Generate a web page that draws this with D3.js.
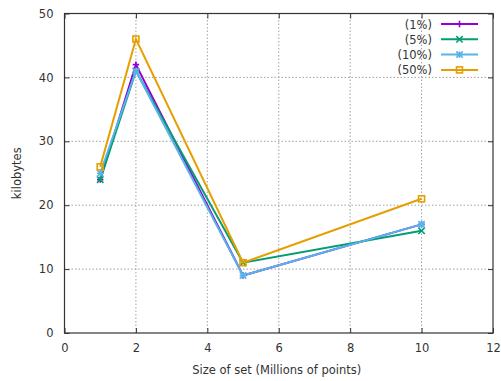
<!DOCTYPE html>
<html>
<head>
<meta charset="utf-8">
<script src="https://cdn.jsdelivr.net/npm/d3@7"></script>
<style>
  body { margin: 0; background: #fff; }
  text { font-family: "DejaVu Sans", sans-serif; fill: #333; }
</style>
</head>
<body>
<div id="chart"></div>
<script>
const sizes = [1, 2, 5, 10]
const seriesNames = ["(1%)", "(5%)", "(10%)", "(50%)"]
const kb1 = [24, 42, 9, 17]
const kb5 = [24, 41, 11, 16]
const kb10 = [25, 41, 9, 17]
const kb50 = [26, 46, 11, 21]
const xTicks = [0, 2, 4, 6, 8, 10, 12]
const yTicks = [0, 10, 20, 30, 40, 50]

const colors = ["#9400d3", "#009e73", "#56b4e9", "#e69f00"]
const symbols = ["plus", "cross", "star", "square"]
const allValues = [kb1, kb5, kb10, kb50]

const width = 501, height = 381
const margin = {left: 64.5, right: 8, top: 13.5, bottom: 48}
const fontSize = 11.5

const svg = d3.select("#chart").append("svg")
    .attr("width", width)
    .attr("height", height)

const x = d3.scaleLinear().domain([0, 12]).range([margin.left, width - margin.right])
const y = d3.scaleLinear().domain([0, 50]).range([height - margin.bottom, margin.top])

// grid
const grid = svg.append("g").attr("class", "grid")
grid.selectAll(".vgrid")
    .data(xTicks.slice(1, -1))
    .enter().append("line")
    .attr("x1", d => x(d)).attr("x2", d => x(d))
    .attr("y1", y(0)).attr("y2", y(50))
grid.selectAll(".hgrid")
    .data(yTicks.slice(1, -1))
    .enter().append("line")
    .attr("x1", x(0)).attr("x2", x(12))
    .attr("y1", d => y(d)).attr("y2", d => y(d))
grid.selectAll("line")
    .attr("stroke", "#a0a0a0")
    .attr("stroke-width", 1)
    .attr("stroke-dasharray", "1.5,2")

// axes, ticks pointing in, mirrored on top/right
const tickLen = 5
svg.append("g")
    .attr("transform", `translate(0,${y(0)})`)
    .call(d3.axisBottom(x).tickValues(xTicks).tickSize(-tickLen).tickPadding(tickLen + 6).tickFormat(d3.format("d")))
svg.append("g")
    .attr("transform", `translate(0,${y(50)})`)
    .call(d3.axisTop(x).tickValues(xTicks).tickSize(-tickLen).tickFormat(""))
svg.append("g")
    .attr("transform", `translate(${x(0)},0)`)
    .call(d3.axisLeft(y).tickValues(yTicks).tickSize(-tickLen).tickPadding(tickLen + 6))
svg.append("g")
    .attr("transform", `translate(${x(12)},0)`)
    .call(d3.axisRight(y).tickValues(yTicks).tickSize(-tickLen).tickFormat(""))

svg.selectAll(".domain").remove()
svg.selectAll(".tick line").attr("stroke", "#333")
svg.selectAll(".tick text").attr("font-size", fontSize).attr("fill", "#333")
    .style("font-family", "DejaVu Sans, sans-serif")

svg.append("rect")
    .attr("x", x(0)).attr("y", y(50))
    .attr("width", x(12) - x(0)).attr("height", y(0) - y(50))
    .attr("fill", "none").attr("stroke", "#333").attr("stroke-width", 1.2)

// axis titles
svg.append("text")
    .attr("x", (x(0) + x(12)) / 2 - 2)
    .attr("y", 374)
    .attr("text-anchor", "middle")
    .attr("font-size", fontSize)
    .text("Size of set (Millions of points)")
svg.append("text")
    .attr("transform", `translate(21,${(y(0) + y(50)) / 2}) rotate(-90)`)
    .attr("text-anchor", "middle")
    .attr("font-size", fontSize)
    .text("kilobytes")

function drawMarker(g, type, cx, cy, color) {
    const r = 3.2
    if (type === "plus" || type === "star") {
        g.append("path").attr("d", `M${cx - r},${cy}H${cx + r}M${cx},${cy - r}V${cy + r}`)
            .attr("stroke", color).attr("stroke-width", 1.6)
    }
    if (type === "cross" || type === "star") {
        g.append("path").attr("d", `M${cx - r},${cy - r}L${cx + r},${cy + r}M${cx - r},${cy + r}L${cx + r},${cy - r}`)
            .attr("stroke", color).attr("stroke-width", 1.6)
    }
    if (type === "square") {
        g.append("rect").attr("x", cx - 3).attr("y", cy - 3).attr("width", 6).attr("height", 6)
            .attr("fill", "none").attr("stroke", color).attr("stroke-width", 1.6)
    }
}

const line = d3.line().x(d => x(d[0])).y(d => y(d[1]))

allValues.forEach((vals, i) => {
    const pts = sizes.map((s, j) => [s, vals[j]])
    const g = svg.append("g")
    g.append("path")
        .datum(pts)
        .attr("d", line)
        .attr("fill", "none")
        .attr("stroke", colors[i])
        .attr("stroke-width", 2)
    pts.forEach(p => drawMarker(g, symbols[i], x(p[0]), y(p[1]), colors[i]))
})

// legend
const legend = svg.append("g")
seriesNames.forEach((name, i) => {
    const ly = 24 + i * 15.3
    legend.append("text")
        .attr("x", 432).attr("y", ly + 4.5)
        .attr("text-anchor", "end")
        .attr("font-size", fontSize)
        .text(name)
    legend.append("line")
        .attr("x1", 441).attr("x2", 478)
        .attr("y1", ly).attr("y2", ly)
        .attr("stroke", colors[i]).attr("stroke-width", 2)
    drawMarker(legend, symbols[i], 459.5, ly, colors[i])
})
</script>
</body>
</html>
